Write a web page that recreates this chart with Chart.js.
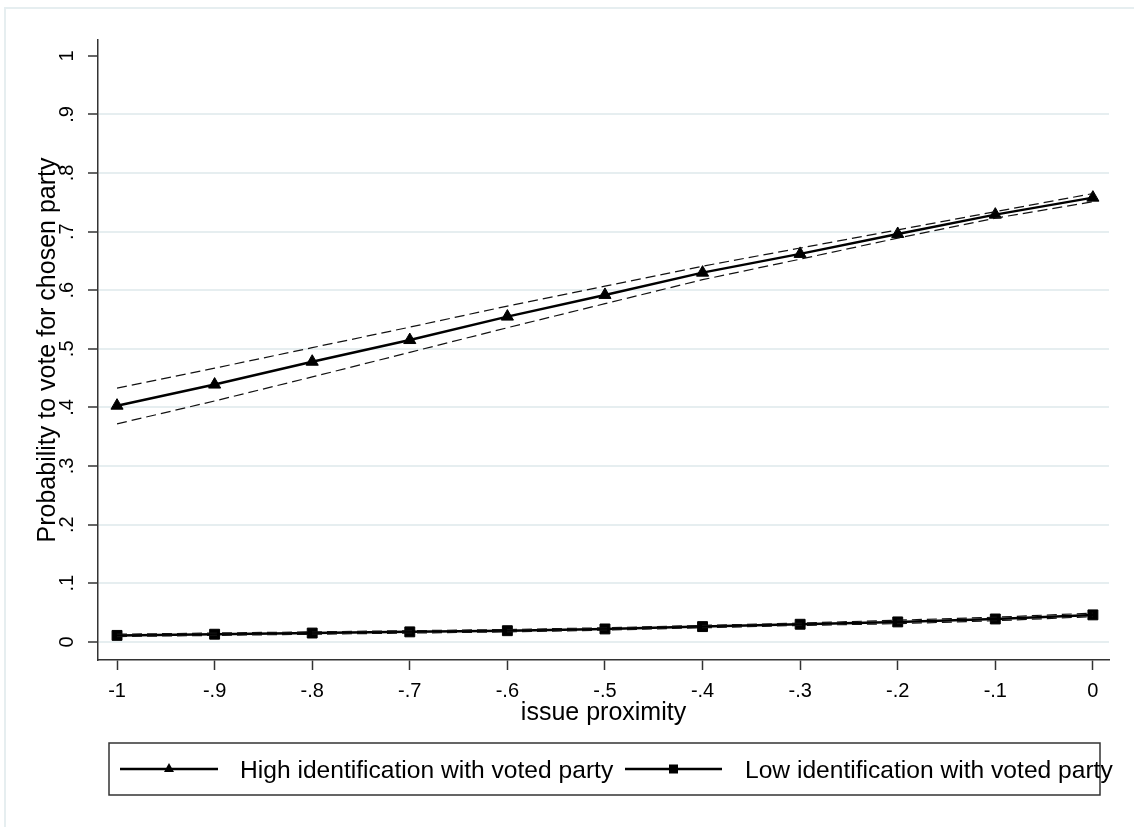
<!DOCTYPE html>
<html lang="en">
<head>
    <meta charset="UTF-8">
    <title>Probability to vote for chosen party</title>
    <script src="https://cdn.jsdelivr.net/npm/chart.js"></script>
    <style>
        html, body { margin: 0; padding: 0; background: #fff; }
        #wrap { position: relative; width: 1134px; height: 827px; }
    </style>
</head>
<body>
    <div id="wrap">
        <canvas id="probChart" width="1134" height="827"></canvas>
    </div>

    <script>
        // x values (issue proximity) and tick labels
        const proximity = [-1, -0.9, -0.8, -0.7, -0.6, -0.5, -0.4, -0.3, -0.2, -0.1, 0];
        const xTickLabels = ['-1', '-.9', '-.8', '-.7', '-.6', '-.5', '-.4', '-.3', '-.2', '-.1', '0'];
        const yTicks = [0, 0.1, 0.2, 0.3, 0.4, 0.5, 0.6, 0.7, 0.8, 0.9, 1];
        const yTickLabels = ['0', '.1', '.2', '.3', '.4', '.5', '.6', '.7', '.8', '.9', '1'];

        // predicted probabilities
        const highId = [0.403, 0.439, 0.478, 0.515, 0.555, 0.592, 0.630, 0.662, 0.696, 0.729, 0.758];
        const highUpper = [0.433, 0.467, 0.502, 0.537, 0.573, 0.607, 0.641, 0.672, 0.703, 0.734, 0.765];
        const highLower = [0.372, 0.411, 0.452, 0.494, 0.536, 0.577, 0.618, 0.653, 0.689, 0.723, 0.751];
        const lowId = [0.011, 0.013, 0.015, 0.017, 0.019, 0.022, 0.026, 0.030, 0.034, 0.039, 0.046];
        const lowUpper = [0.013, 0.015, 0.017, 0.019, 0.021, 0.024, 0.028, 0.032, 0.037, 0.042, 0.049];
        const lowLower = [0.009, 0.011, 0.013, 0.015, 0.017, 0.020, 0.024, 0.028, 0.031, 0.036, 0.043];

        const seriesLabels = ['High identification with voted party', 'Low identification with voted party'];

        const toPoints = arr => arr.map((v, i) => ({ x: proximity[i], y: v }));
        const FONT = 'Liberation Sans, Arial, sans-serif';

        function ciLine(values) {
            return {
                data: toPoints(values),
                borderColor: '#111',
                borderWidth: 1.2,
                borderDash: [10, 5],
                pointRadius: 0,
                fill: false,
                tension: 0
            };
        }

        // light outer frame like the exported graph
        const framePlugin = {
            id: 'frame',
            beforeDraw(chart) {
                const c = chart.ctx;
                c.save();
                c.fillStyle = '#fff';
                c.fillRect(0, 0, chart.width, chart.height);
                c.strokeStyle = '#e6eef0';
                c.lineWidth = 2;
                c.strokeRect(5, 8, chart.width + 20, chart.height + 20);
                c.restore();
            }
        };

        // legend box under the plot with line + marker samples
        const legendPlugin = {
            id: 'boxLegend',
            afterDraw(chart) {
                const c = chart.ctx;
                const box = { left: 109, top: 743, right: 1100, bottom: 795 };
                const midY = (box.top + box.bottom) / 2;
                c.save();
                c.strokeStyle = '#333';
                c.lineWidth = 1.5;
                c.strokeRect(box.left, box.top, box.right - box.left, box.bottom - box.top);

                const entries = [
                    { x0: 120, x1: 218, text: 240, ds: chart.data.datasets[4] },
                    { x0: 625, x1: 722, text: 745, ds: chart.data.datasets[5] }
                ];
                entries.forEach(e => {
                    c.strokeStyle = '#000';
                    c.lineWidth = 2.5;
                    c.beginPath();
                    c.moveTo(e.x0, midY);
                    c.lineTo(e.x1, midY);
                    c.stroke();
                    const mx = (e.x0 + e.x1) / 2;
                    c.fillStyle = '#000';
                    if (e.ds.pointStyle === 'triangle') {
                        c.beginPath();
                        c.moveTo(mx, midY - 6);
                        c.lineTo(mx + 5, midY + 3);
                        c.lineTo(mx - 5, midY + 3);
                        c.closePath();
                        c.fill();
                    } else {
                        c.fillRect(mx - 4.5, midY - 4.5, 9, 9);
                    }
                    c.font = '24.6px ' + FONT;
                    c.textBaseline = 'alphabetic';
                    c.textAlign = 'left';
                    c.fillText(e.ds.label, e.text, midY + 9);
                });
                c.restore();
            }
        };

        const ctx = document.getElementById('probChart').getContext('2d');
        new Chart(ctx, {
            type: 'line',
            data: {
                datasets: [
                    ciLine(highUpper),
                    ciLine(highLower),
                    ciLine(lowUpper),
                    ciLine(lowLower),
                    {
                        label: seriesLabels[0],
                        data: toPoints(highId),
                        borderColor: '#000',
                        backgroundColor: '#000',
                        borderWidth: 2.5,
                        pointStyle: 'triangle',
                        pointRadius: 7,
                        pointBorderWidth: 1,
                        tension: 0
                    },
                    {
                        label: seriesLabels[1],
                        data: toPoints(lowId),
                        borderColor: '#000',
                        backgroundColor: '#000',
                        borderWidth: 2.5,
                        pointStyle: 'rect',
                        pointRadius: 7,
                        pointBorderWidth: 1,
                        tension: 0
                    }
                ]
            },
            options: {
                responsive: false,
                animation: false,
                layout: { padding: { top: 40, right: 25, bottom: 97, left: 0 } },
                plugins: {
                    legend: { display: false },
                    tooltip: { enabled: false }
                },
                scales: {
                    x: {
                        type: 'linear',
                        min: -1.0195,
                        max: 0.0165,
                        afterBuildTicks: s => { s.ticks = proximity.map(v => ({ value: v })); },
                        afterFit: s => { s.height = 70; },
                        ticks: {
                            color: '#000',
                            font: { family: FONT, size: 20 },
                            padding: 9,
                            maxRotation: 0,
                            autoSkip: false,
                            callback: (v, i) => xTickLabels[i]
                        },
                        grid: {
                            drawOnChartArea: false,
                            tickColor: '#333',
                            tickLength: 10,
                            tickWidth: 1.5
                        },
                        border: { color: '#333', width: 1.5 },
                        title: {
                            display: true,
                            text: 'issue proximity',
                            color: '#000',
                            font: { family: FONT, size: 25 },
                            padding: { top: 0, bottom: 2 }
                        }
                    },
                    y: {
                        type: 'linear',
                        min: -0.031,
                        max: 1.027,
                        afterBuildTicks: s => { s.ticks = yTicks.map(v => ({ value: v })); },
                        afterFit: s => { s.width = 98; },
                        ticks: {
                            color: '#000',
                            font: { family: FONT, size: 20 },
                            padding: 12,
                            minRotation: 90,
                            maxRotation: 90,
                            crossAlign: 'center',
                            autoSkip: false,
                            callback: (v, i) => yTickLabels[i]
                        },
                        grid: {
                            color: c => (c.tick && c.tick.value === 1) ? 'rgba(0,0,0,0)' : '#e6eef0',
                            lineWidth: 2,
                            tickColor: '#333',
                            tickLength: 10,
                            tickWidth: 1.5
                        },
                        border: { color: '#333', width: 1.5 },
                        title: {
                            display: true,
                            text: 'Probability to vote for chosen party',
                            color: '#000',
                            font: { family: FONT, size: 25 },
                            padding: { top: 33, bottom: 0 }
                        }
                    }
                }
            },
            plugins: [framePlugin, legendPlugin]
        });
    </script>
</body>
</html>
